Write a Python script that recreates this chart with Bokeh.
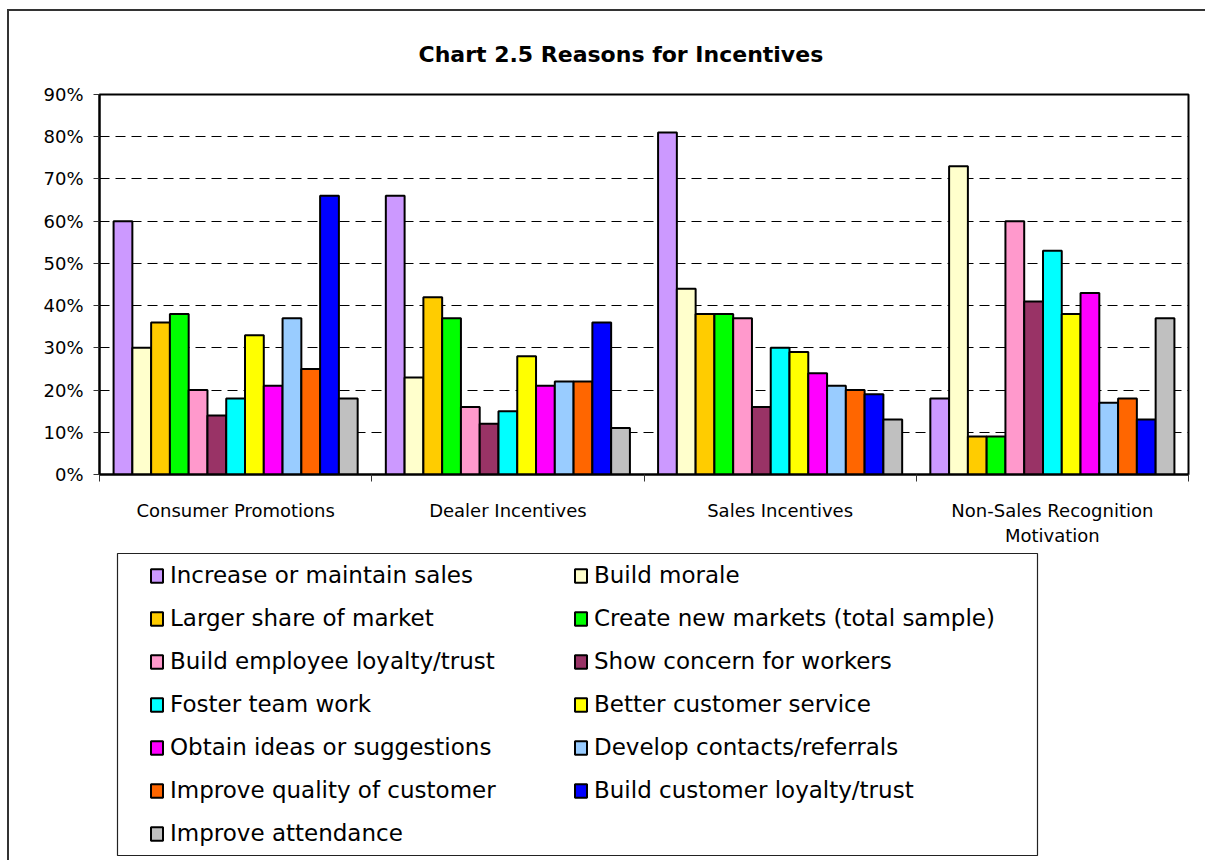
from bokeh.plotting import figure
from bokeh.layouts import column
from bokeh.models import (ColumnDataSource, FixedTicker, NumeralTickFormatter, Legend,
                          LegendItem, BoxAnnotation, Range1d)
from bokeh.embed import file_html
from bokeh.resources import INLINE

categories = ["Consumer Promotions", "Dealer Incentives", "Sales Incentives",
              "Non-Sales Recognition\nMotivation"]
series = ["Increase or maintain sales", "Build morale", "Larger share of market",
          "Create new markets (total sample)", "Build employee loyalty/trust",
          "Show concern for workers", "Foster team work", "Better customer service",
          "Obtain ideas or suggestions", "Develop contacts/referrals",
          "Improve quality of customer", "Build customer loyalty/trust",
          "Improve attendance"]
colors = ["#CC99FF", "#FFFFCC", "#FFCC00", "#00FF00", "#FF99CC", "#993366", "#00FFFF",
          "#FFFF00", "#FF00FF", "#99CCFF", "#FF6600", "#0000FF", "#C0C0C0"]

increase_sales = [60, 66, 81, 18]
build_morale = [30, 23, 44, 73]
larger_share = [36, 42, 38, 9]
new_markets = [38, 37, 38, 9]
employee_loyalty = [20, 16, 37, 60]
concern_workers = [14, 12, 16, 41]
team_work = [18, 15, 30, 53]
customer_service = [33, 28, 29, 38]
ideas = [21, 21, 24, 43]
contacts = [37, 22, 21, 17]
quality_customer = [25, 22, 20, 18]
customer_loyalty = [66, 36, 19, 13]
attendance = [18, 11, 13, 37]

values = [increase_sales, build_morale, larger_share, new_markets, employee_loyalty,
          concern_workers, team_work, customer_service, ideas, contacts,
          quality_customer, customer_loyalty, attendance]

y_ticks = [0, 0.1, 0.2, 0.3, 0.4, 0.5, 0.6, 0.7, 0.8, 0.9]

FONT = "DejaVu Sans"

p = figure(width=1196, height=537, output_backend="svg", toolbar_location=None,
           x_range=Range1d(0, len(categories)), y_range=Range1d(0, 0.9),
           min_border_left=90, min_border_right=17, min_border_top=83,
           min_border_bottom=73, title="Chart 2.5 Reasons for Incentives")
p.outline_line_color = "black"
p.outline_line_width = 2
p.title.align = "left"
p.title.offset = 319
p.title.standoff = 56
p.title.text_font = FONT
p.title.text_font_style = "bold"
p.title.text_font_size = "22px"
p.title.text_color = "black"

# legend-only figure below the chart
lp = figure(width=1196, height=312, output_backend="svg", toolbar_location=None,
            x_range=Range1d(0, 1), y_range=Range1d(0, 1), x_axis_location=None,
            y_axis_location=None, min_border_left=90, min_border_right=17,
            min_border_top=0, min_border_bottom=0)
lp.outline_line_color = None
lp.xgrid.grid_line_color = None
lp.ygrid.grid_line_color = None

n = len(series)
bw = 1.0 / (n + 1.5)
items = []
for s, (name, col, vals) in enumerate(zip(series, colors, values)):
    xs = [c + 0.5 + (s - (n - 1) / 2) * bw for c in range(len(categories))]
    src = ColumnDataSource(dict(x=xs, top=[v / 100 for v in vals]))
    p.vbar(x="x", top="top", width=bw, bottom=0, source=src, fill_color=col,
           line_color="black", line_width=2)
    lr = lp.vbar(x="x", top="top", width=bw, bottom=0, source=src, fill_color=col,
                 line_color="black", line_width=2, visible=False)
    items.append(LegendItem(label=name, renderers=[lr]))

# y axis
yax = p.yaxis[0]
yax.ticker = FixedTicker(ticks=y_ticks)
yax.formatter = NumeralTickFormatter(format="0%")
yax.axis_line_width = 2
yax.axis_line_color = "black"
yax.major_tick_out = 6
yax.major_tick_in = 0
yax.major_tick_line_color = "#333333"
yax.minor_tick_line_color = None
yax.major_label_standoff = 10
yax.major_label_text_font = FONT
yax.major_label_text_font_size = "18px"
yax.major_label_text_color = "black"

# x axis
xax = p.xaxis[0]
xax.ticker = FixedTicker(ticks=[c + 0.5 for c in range(len(categories))],
                         minor_ticks=list(range(len(categories) + 1)))
xax.major_label_overrides = {c + 0.5: lab for c, lab in enumerate(categories)}
xax.axis_line_width = 2
xax.axis_line_color = "black"
xax.major_tick_line_color = None
xax.major_tick_out = 0
xax.major_tick_in = 0
xax.minor_tick_line_color = "#333333"
xax.minor_tick_out = 7
xax.minor_tick_in = 0
xax.major_label_standoff = 18
xax.major_label_text_font = FONT
xax.major_label_text_font_size = "18px"
xax.major_label_text_color = "black"

p.xgrid.grid_line_color = None
p.ygrid.ticker = FixedTicker(ticks=y_ticks)
p.ygrid.grid_line_color = "black"
p.ygrid.grid_line_dash = "10 6"
p.ygrid.grid_line_width = 1

# legend box
box = BoxAnnotation(left=18, right=938, top=307, bottom=5, left_units="screen",
                    right_units="screen", top_units="screen", bottom_units="screen",
                    fill_color="white", fill_alpha=1, line_color="#222222",
                    line_alpha=1, line_width=1.2)
lp.add_layout(box)

legend = Legend(items=items, location=(50, 13), orientation="horizontal", ncols=2,
                padding=8, margin=0, spacing=15, glyph_width=15, glyph_height=17,
                label_standoff=6, label_width=388, label_height=28,
                label_text_font=FONT, label_text_font_size="23px",
                label_text_color="black", border_line_color=None,
                background_fill_alpha=0, inactive_fill_alpha=0)
lp.add_layout(legend)

layout = column(p, lp, spacing=0)
layout.styles = {"border-top": "2px solid #333333", "border-left": "2px solid #333333",
                 "margin-top": "9px", "margin-left": "7px"}

open("out.html", "w").write(file_html(layout, INLINE))
